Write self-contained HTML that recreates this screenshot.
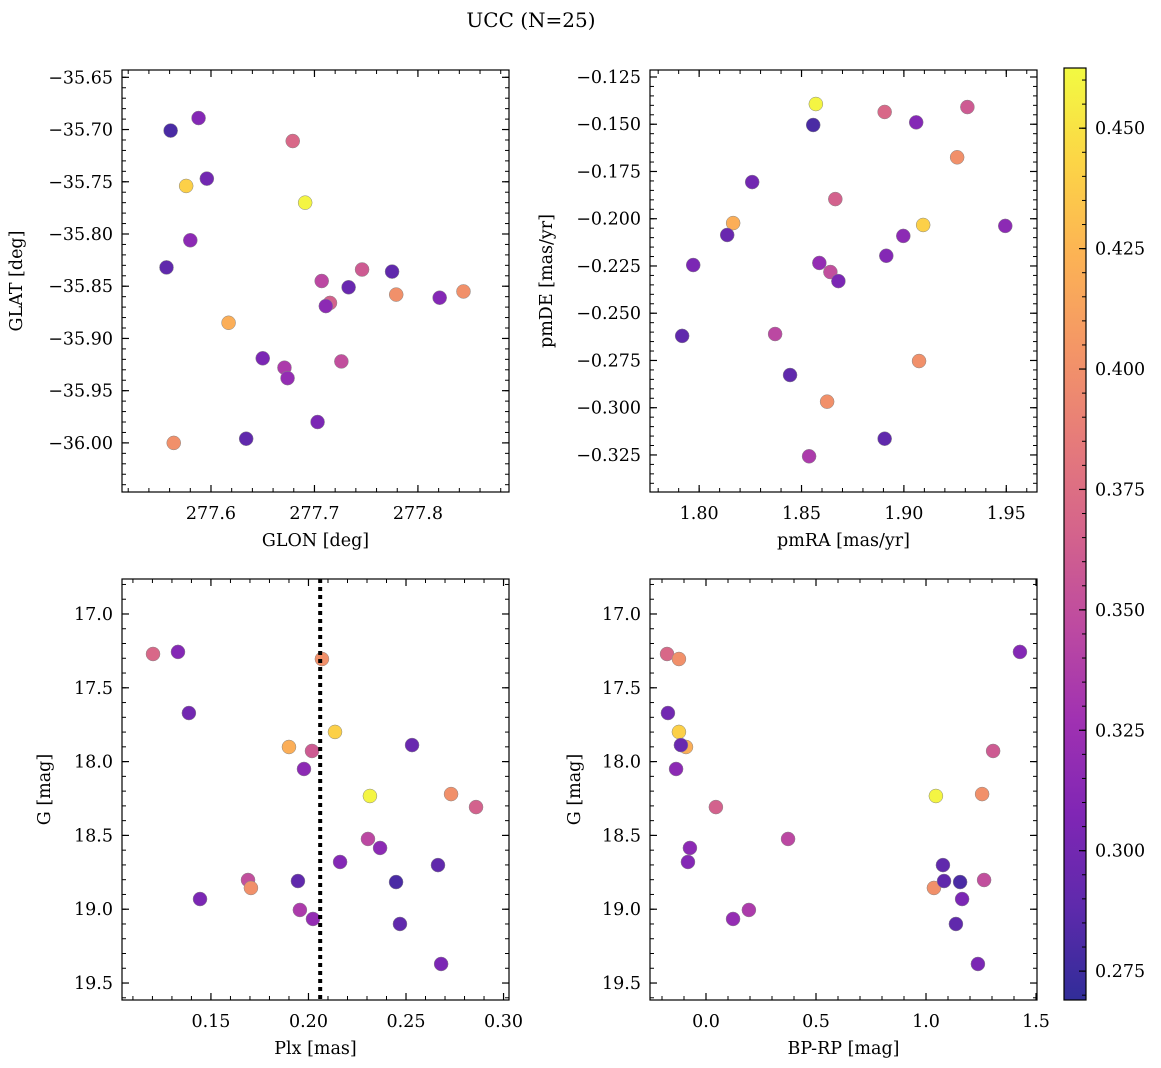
<!DOCTYPE html>
<html><head><meta charset="utf-8">
<style>
body{margin:0;background:#fff;}
svg{display:block;font-family:"DejaVu Serif","Liberation Serif",serif;}
</style></head>
<body>
<svg id="fig" width="1161" height="1068" viewBox="0 0 1161 1068" xmlns="http://www.w3.org/2000/svg">
<text x="531" y="27" font-size="20" text-anchor="middle">UCC (N=25)</text>
</svg>
<script>
const glon=[277.679,277.588,277.596,277.779,277.617,277.746,277.576,277.580,277.733,277.691,277.844,277.715,277.707,277.711,277.821,277.775,277.726,277.564,277.634,277.561,277.650,277.671,277.674,277.557,277.703];
const glat=[-35.711,-35.689,-35.747,-35.858,-35.885,-35.834,-35.754,-35.806,-35.851,-35.770,-35.855,-35.866,-35.845,-35.869,-35.861,-35.836,-35.922,-36.000,-35.996,-35.701,-35.919,-35.928,-35.938,-35.832,-35.980];
const pmra=[1.8906,1.906,1.8259,1.9074,1.8166,1.931,1.9094,1.9495,1.8137,1.857,1.8625,1.8665,1.8371,1.8997,1.8914,1.8906,1.8641,1.926,1.8444,1.8557,1.7971,1.8537,1.8587,1.7917,1.868];
const pmde=[-0.1435,-0.149,-0.1806,-0.2753,-0.2023,-0.1409,-0.2033,-0.2038,-0.2086,-0.1393,-0.2968,-0.1896,-0.2610,-0.2091,-0.2196,-0.3164,-0.2282,-0.1675,-0.2827,-0.1504,-0.2245,-0.3257,-0.2234,-0.2620,-0.233];
const plx=[0.1203,0.1331,0.1387,0.2069,0.19,0.2018,0.2136,0.1977,0.2531,0.2315,0.2731,0.2859,0.2305,0.2367,0.2162,0.2664,0.169,0.1705,0.1946,0.2449,0.1444,0.1956,0.2023,0.2469,0.268];
const gmag=[17.271,17.257,17.671,17.305,17.901,17.928,17.799,18.050,17.888,18.233,18.220,18.308,18.524,18.585,18.680,18.701,18.802,18.856,18.809,18.816,18.931,19.005,19.066,19.100,19.371];
const bprp=[-0.177,1.427,-0.173,-0.123,-0.091,1.305,-0.123,-0.136,-0.114,1.045,1.255,0.045,0.373,-0.073,-0.082,1.077,1.264,1.036,1.082,1.155,1.164,0.195,0.123,1.136,1.236];
const prob=[0.37,0.31,0.30,0.40,0.42,0.36,0.44,0.315,0.295,0.46,0.40,0.365,0.345,0.315,0.31,0.29,0.35,0.40,0.29,0.28,0.305,0.335,0.32,0.29,0.305];
const plxLine=0.206;
const cbTicks=[0.275,0.300,0.325,0.350,0.375,0.400,0.425,0.450];

const NS="http://www.w3.org/2000/svg";
const svg=document.getElementById('fig');
const FS=17.5;
function mk(tag,attrs,parent){const e=document.createElementNS(NS,tag);for(const k in attrs)e.setAttribute(k,attrs[k]);(parent||svg).appendChild(e);return e;}
const stops=[[13,8,135],[65,4,157],[106,0,168],[143,13,164],[177,42,144],[204,71,120],[225,100,98],[242,132,75],[252,166,54],[252,206,37],[240,249,33]];
function plasma(t){t=Math.max(0,Math.min(1,t));const f=t*10,i=Math.min(9,Math.floor(f)),u=f-i;const a=stops[i],b=stops[i+1];
 const c=a.map((v,k)=>Math.round((v+(b[k]-v)*u)*0.85+255*0.15));return `rgb(${c[0]},${c[1]},${c[2]})`;}
const vmin=0.269,vmax=0.4625;
function fmt(v,d){return (v<0?'\u2212':'')+Math.abs(v).toFixed(d);}

function panel(name,box,xd,yd,xt,yt,xminor,yminor,xdec,ydec,xlab,ylab,ylabX,xs,ys){
 const [L,T,R,B]=box;
 const sx=v=>L+(v-xd[0])/(xd[1]-xd[0])*(R-L);
 const sy=v=>T+(v-yd[0])/(yd[1]-yd[0])*(B-T);
 const g=mk('g',{});
 
 
 const ax=mk('g',{},g);
 
 
 const lo=Math.min(xd[0],xd[1]),hi=Math.max(xd[0],xd[1]);
 for(let v=Math.ceil(lo/xminor-1e-6)*xminor;v<=hi;v+=xminor){const x=sx(v);mk('line',{x1:x,x2:x,y1:B,y2:B-4,stroke:'#000','stroke-width':1},ax);mk('line',{x1:x,x2:x,y1:T,y2:T+4,stroke:'#000','stroke-width':1},ax);}
 const ylo=Math.min(yd[0],yd[1]),yhi=Math.max(yd[0],yd[1]);
 for(let v=Math.ceil(ylo/yminor-1e-6)*yminor;v<=yhi;v+=yminor){const y=sy(v);mk('line',{x1:L,x2:L+4,y1:y,y2:y,stroke:'#000','stroke-width':1},ax);mk('line',{x1:R,x2:R-4,y1:y,y2:y,stroke:'#000','stroke-width':1},ax);}
 xt.forEach(v=>{const x=sx(v);mk('line',{x1:x,x2:x,y1:B,y2:B-7,stroke:'#000','stroke-width':1.2},ax);mk('line',{x1:x,x2:x,y1:T,y2:T+7,stroke:'#000','stroke-width':1.2},ax);
  const t=mk('text',{x:x,y:B+27,'font-size':FS,'text-anchor':'middle'},ax);t.textContent=fmt(v,xdec);
  
  });
 yt.forEach(v=>{const y=sy(v);mk('line',{x1:L,x2:L+7,y1:y,y2:y,stroke:'#000','stroke-width':1.2},ax);mk('line',{x1:R,x2:R-7,y1:y,y2:y,stroke:'#000','stroke-width':1.2},ax);
  const t=mk('text',{x:L-9,y:y+6,'font-size':FS,'text-anchor':'end'},ax);t.textContent=fmt(v,ydec);
  
  });
 const xl=mk('text',{x:(L+R)/2,y:B+54,'font-size':FS,'text-anchor':'middle'},g);xl.textContent=xlab;
 
 
 const yl=mk('text',{x:ylabX,y:(T+B)/2,'font-size':FS,'text-anchor':'middle',transform:`rotate(-90 ${ylabX} ${(T+B)/2})`},g);yl.textContent=ylab;
 
 
 const pts=mk('g',{},g);
 
 
 for(let i=0;i<xs.length;i++){
  const c=mk('circle',{cx:sx(xs[i]),cy:sy(ys[i]),r:7,fill:plasma((prob[i]-vmin)/(vmax-vmin)),stroke:'#888','stroke-width':0.5},pts);
  
  
 }
 mk('rect',{x:L,y:T,width:R-L,height:B-T,fill:'none',stroke:'#000','stroke-width':1.2},g);
 return {sx,sy,g};
}
panel('glon-glat-panel',[122,70,509,492],[277.514,277.888],[-35.643,-36.047],[277.6,277.7,277.8],[-35.65,-35.70,-35.75,-35.80,-35.85,-35.90,-35.95,-36.00],0.02,0.01,1,2,'GLON [deg]','GLAT [deg]',22,glon,glat);
panel('pm-panel',[650,70,1037,492],[1.776,1.965],[-0.1213,-0.3446],[1.80,1.85,1.90,1.95],[-0.125,-0.150,-0.175,-0.200,-0.225,-0.250,-0.275,-0.300,-0.325],0.01,0.005,2,3,'pmRA [mas/yr]','pmDE [mas/yr]',552,pmra,pmde);
const p3=panel('plx-g-panel',[122,579,509,1000],[0.1044,0.3028],[16.763,19.615],[0.15,0.20,0.25,0.30],[17.0,17.5,18.0,18.5,19.0,19.5],0.01,0.1,2,1,'Plx [mas]','G [mag]',50,plx,gmag);
const dl=mk('line',{x1:p3.sx(plxLine),x2:p3.sx(plxLine),y1:579,y2:1000,stroke:'#000','stroke-width':4,'stroke-dasharray':'4,4'});


panel('color-g-panel',[650,579,1037,1000],[-0.2545,1.5045],[16.763,19.615],[0.0,0.5,1.0,1.5],[17.0,17.5,18.0,18.5,19.0,19.5],0.1,0.1,1,1,'BP-RP [mag]','G [mag]',580,bprp,gmag);

const cb=mk('g',{});


const defs=mk('defs',{});
const lg=mk('linearGradient',{id:'cbg',x1:0,y1:1,x2:0,y2:0},defs);
for(let k=0;k<=20;k++){mk('stop',{offset:k/20,'stop-color':plasma(k/20)},lg);}
mk('rect',{x:1064,y:68,width:22,height:932,fill:'url(#cbg)',stroke:'#000','stroke-width':1.2},cb);
const cy=v=>1000-(v-vmin)/(vmax-vmin)*932;
for(let v=0.270;v<=0.4625;v+=0.005){const y=cy(v);mk('line',{x1:1086,x2:1082,y1:y,y2:y,stroke:'#000','stroke-width':1},cb);}
cbTicks.forEach(v=>{const y=cy(v);mk('line',{x1:1086,x2:1079,y1:y,y2:y,stroke:'#000','stroke-width':1.2},cb);
 const t=mk('text',{x:1095,y:y+6,'font-size':FS},cb);t.textContent=v.toFixed(3);
 
 });
</script>
</body></html>
